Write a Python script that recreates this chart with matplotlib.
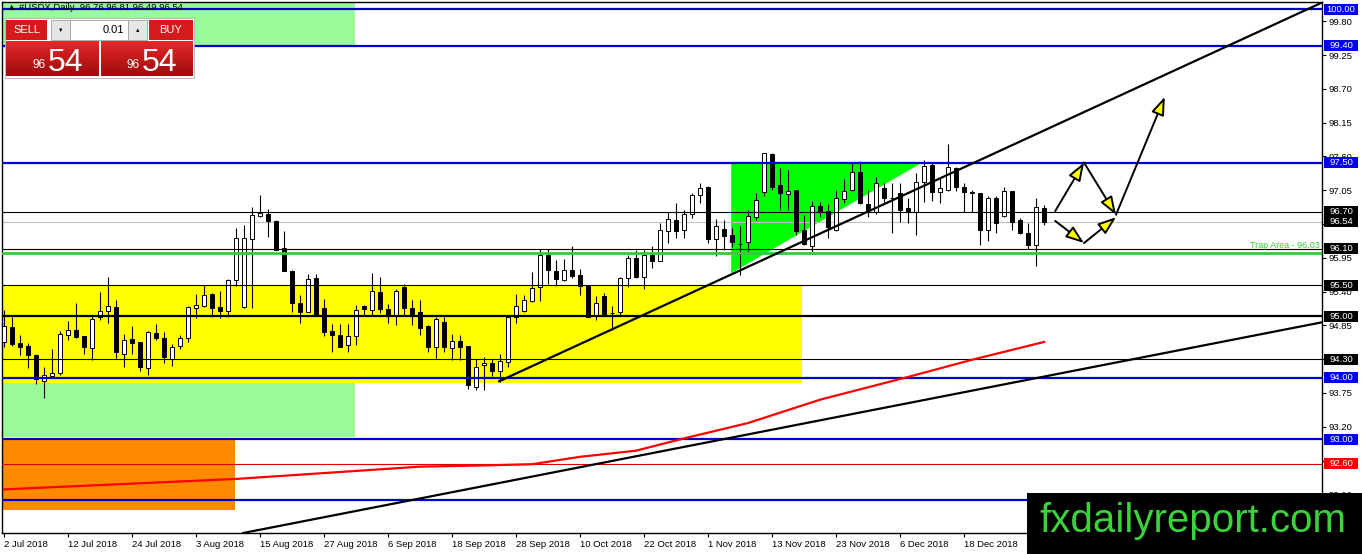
import matplotlib
matplotlib.use("Agg")
import numpy as np
import matplotlib.pyplot as plt
from matplotlib.patches import Rectangle, Polygon
from matplotlib.transforms import blended_transform_factory
from matplotlib.colors import LinearSegmentedColormap

plt.rcParams['font.family'] = ['Liberation Sans', 'DejaVu Sans']

# daily USDX candles, bar 0 = 2 Jul 2018 (one bar per trading day)
opens = [94.58, 94.83, 94.57, 94.51, 94.37, 93.94, 94.03, 94.07, 94.69, 94.78,
         94.67, 94.48, 94.98, 95.08, 95.15, 94.39, 94.62, 94.58, 94.16, 94.73,
         94.64, 94.31, 94.51, 94.64, 95.14, 95.16, 95.36, 95.15, 95.09, 95.59,
         95.15, 96.25, 96.63, 96.67, 96.55, 96.11, 95.74, 95.22, 95.07, 95.62,
         95.13, 94.76, 94.69, 94.53, 94.68, 95.16, 95.10, 95.39, 95.12, 95.01,
         95.48, 95.13, 95.07, 94.84, 94.49, 94.90, 94.48, 94.60, 94.52, 93.84,
         94.20, 94.24, 94.10, 94.26, 94.99, 95.09, 95.24, 95.47, 95.99, 95.74,
         95.59, 95.75, 95.67, 95.49, 95.00, 95.33, 95.05, 95.06, 95.62, 95.94,
         95.63, 96.00, 95.90, 96.39, 96.57, 96.41, 96.66, 96.97, 97.11, 96.26,
         96.42, 96.32, 96.18, 96.20, 96.62, 97.02, 97.64, 97.14, 96.99, 97.05,
         96.40, 96.15, 96.79, 96.71, 96.41, 96.90, 97.05, 97.35, 96.82, 96.70,
         97.09, 96.92, 97.00, 96.76, 96.69, 97.18, 97.46, 97.02, 97.05, 97.41,
         97.10, 97.02, 97.00, 96.41, 96.92, 96.63, 97.03, 96.57, 96.36, 96.16,
         96.76]
highs = [95.10, 94.98, 94.69, 94.56, 94.38, 94.18, 94.46, 94.76, 94.92, 95.22,
         94.67, 95.02, 95.39, 95.64, 95.26, 94.71, 94.84, 94.58, 94.76, 94.88,
         94.74, 94.54, 94.69, 95.17, 95.36, 95.51, 95.37, 95.41, 95.60, 96.43,
         96.49, 96.78, 96.97, 96.75, 96.56, 96.39, 95.75, 95.35, 95.68, 95.68,
         95.28, 94.88, 94.88, 94.88, 95.18, 95.18, 95.71, 95.63, 95.19, 95.45,
         95.52, 95.26, 95.26, 94.85, 94.99, 94.98, 94.71, 94.70, 94.52, 94.31,
         94.34, 94.30, 94.38, 94.98, 95.36, 95.34, 95.72, 96.09, 96.10, 95.92,
         95.93, 96.14, 95.76, 95.49, 95.32, 95.37, 95.17, 95.63, 96.00, 96.07,
         96.07, 96.14, 96.52, 96.70, 96.84, 96.73, 97.01, 97.17, 97.12, 96.58,
         96.57, 96.43, 96.46, 96.72, 97.01, 97.66, 97.65, 97.41, 97.38, 97.06,
         96.65, 96.88, 96.86, 96.82, 97.05, 97.23, 97.49, 97.52, 97.05, 97.27,
         97.16, 97.16, 97.16, 96.92, 97.33, 97.54, 97.50, 97.27, 97.80, 97.43,
         97.16, 97.05, 97.00, 96.95, 96.95, 97.11, 97.03, 96.59, 96.51, 96.93,
         96.81]
lows = [94.50, 94.52, 94.37, 94.15, 93.89, 93.66, 93.99, 94.04, 94.61, 94.65,
        94.38, 94.29, 94.94, 94.89, 94.32, 94.18, 94.38, 94.11, 94.05, 94.61,
        94.23, 94.19, 94.46, 94.58, 94.97, 95.15, 94.99, 94.97, 94.99, 95.49,
        95.13, 95.14, 96.62, 96.29, 96.07, 95.73, 95.07, 94.89, 95.06, 95.00,
        94.67, 94.41, 94.49, 94.42, 94.53, 95.02, 95.00, 95.05, 94.89, 94.85,
        95.00, 94.85, 94.69, 94.41, 94.32, 94.41, 94.29, 94.29, 93.81, 93.79,
        93.80, 94.02, 93.93, 94.18, 94.89, 95.06, 95.23, 95.24, 95.53, 95.49,
        95.58, 95.62, 95.35, 94.98, 94.93, 95.01, 94.77, 95.01, 95.47, 95.62,
        95.45, 95.79, 95.89, 96.19, 96.27, 96.27, 96.59, 96.85, 96.19, 95.98,
        96.08, 96.13, 95.67, 96.05, 96.57, 96.95, 97.05, 96.72, 96.73, 96.32,
        96.16, 96.05, 96.61, 96.28, 96.39, 96.84, 97.04, 96.83, 96.61, 96.66,
        96.86, 96.35, 96.54, 96.51, 96.32, 96.86, 96.88, 96.84, 97.03, 97.03,
        96.69, 96.69, 96.16, 96.23, 96.36, 96.61, 96.40, 96.34, 96.10, 95.81,
        96.49]
closes = [94.84, 94.55, 94.50, 94.36, 93.98, 94.05, 94.07, 94.71, 94.77, 94.66,
          94.49, 94.95, 95.09, 95.16, 94.42, 94.61, 94.56, 94.18, 94.74, 94.65,
          94.33, 94.49, 94.64, 95.15, 95.18, 95.34, 95.14, 95.09, 95.59, 96.28,
          96.27, 96.65, 96.68, 96.55, 96.08, 95.74, 95.22, 95.07, 95.60, 95.02,
          94.74, 94.69, 94.50, 94.68, 95.10, 95.11, 95.41, 95.11, 95.01, 95.41,
          95.14, 95.04, 94.81, 94.50, 94.95, 94.49, 94.59, 94.50, 93.88, 94.17,
          94.24, 94.11, 94.27, 94.98, 95.17, 95.26, 95.46, 95.99, 95.75, 95.60,
          95.75, 95.66, 95.49, 94.99, 95.22, 95.03, 95.05, 95.62, 95.95, 95.63,
          96.00, 95.90, 96.40, 96.58, 96.38, 96.66, 96.97, 97.08, 96.26, 96.46,
          96.31, 96.20, 96.17, 96.63, 96.89, 97.65, 97.11, 97.00, 97.04, 96.39,
          96.18, 96.79, 96.69, 96.45, 96.92, 97.04, 97.35, 96.84, 96.73, 97.17,
          96.93, 96.92, 96.73, 96.69, 97.18, 97.44, 97.02, 97.08, 97.42, 97.11,
          97.02, 97.01, 96.41, 96.93, 96.52, 97.03, 96.54, 96.35, 96.16, 96.78,
          96.54]

date_labels = ["2 Jul 2018", "12 Jul 2018", "24 Jul 2018", "3 Aug 2018", "15 Aug 2018",
               "27 Aug 2018", "6 Sep 2018", "18 Sep 2018", "28 Sep 2018", "10 Oct 2018",
               "22 Oct 2018", "1 Nov 2018", "13 Nov 2018", "23 Nov 2018", "6 Dec 2018",
               "18 Dec 2018"]
price_ticks = [92.10, 92.65, 93.20, 93.75, 94.30, 94.85, 95.40, 95.95, 96.50,
               97.05, 97.60, 98.15, 98.70, 99.25, 99.80]
hidden_ticks = [92.65, 94.30, 96.50]   # covered by the level tags

# moving average (red), read at a few bars
ma_bars = [0, 29, 52, 60, 66, 72, 79, 85, 93, 102, 113, 121, 130]
ma_vals = [92.18, 92.35, 92.55, 92.57, 92.59, 92.71, 92.81, 93.01, 93.26, 93.64,
           94.01, 94.29, 94.58]

# horizontal levels
blue_levels = [100.00, 99.40, 97.50, 94.00, 93.00, 92.00]
black_levels = [96.70, 96.10, 95.50, 94.30]
thick_level = 95.00
red_level = 92.60
bid_price = 96.54
trap_level = 96.03

level_tags = [(100.00, '#0000f0'), (99.40, '#0000f0'), (97.50, '#0000f0'),
              (96.70, 'black'), (96.54, 'black'), (96.10, 'black'),
              (95.50, 'black'), (95.00, 'black'), (94.30, 'black'),
              (94.00, '#0000f0'), (93.00, '#0000f0'), (92.60, '#ff0000')]

# trend lines (bar, price)
trend_up = [(61.9, 93.94), (166.0, 100.18)]
trend_low = [(29.9, 91.47), (164.75, 94.90)]

# zones: (bar0, bar1, price0, price1, colour)
zones = [(-0.25, 43.9, 99.41, 100.2, '#98fb98'),
         (-0.25, 43.9, 93.03, 93.91, '#98fb98'),
         (-0.25, 99.75, 93.91, 95.49, '#ffff00'),
         (-0.25, 28.9, 91.84, 92.98, '#ff8a00')]
triangle = [(90.9, 97.51), (114.9, 97.51), (90.9, 95.70)]

# projected path arrows
path_up = [(131.4, 96.71), (135.0, 97.50), (139.0, 96.65), (145.1, 98.57)]
path_down = [(131.4, 96.55), (135.0, 96.19), (139.0, 96.61)]

W, H = 1362, 554
fig = plt.figure(figsize=(W / 100, H / 100), dpi=100)
ax = fig.add_axes([2 / W, 21 / H, 1320 / W, 531 / H])
ax.set_xlim(-0.25, 164.75)
ax.set_ylim(91.47, 100.114)

for b0, b1, p0, p1, col in zones:
    ax.add_patch(Rectangle((b0, p0), b1 - b0, p1 - p0, fc=col, ec='none', zorder=1))
ax.add_patch(Polygon(triangle, closed=True, fc='#00ff00', ec='none', zorder=1))

# candles
x = np.arange(len(opens))
o = np.array(opens); c = np.array(closes)
ax.vlines(x, lows, highs, color='black', lw=0.8, zorder=3)
bull = c >= o
ax.bar(x[bull], c[bull] - o[bull], bottom=o[bull], width=0.62,
       color='white', edgecolor='black', lw=0.7, zorder=3.1)
ax.bar(x[~bull], o[~bull] - c[~bull], bottom=c[~bull], width=0.62,
       color='black', edgecolor='black', lw=0.7, zorder=3.1)

# levels
for lv in blue_levels:
    ax.axhline(lv, color='#0000c8', lw=1.6, zorder=4)
for lv in black_levels:
    ax.axhline(lv, color='black', lw=0.8, zorder=4)
ax.axhline(thick_level, color='black', lw=1.6, zorder=4)
ax.axhline(red_level, color='#e00000', lw=0.8, zorder=4)
ax.axhline(bid_price, color='#c0c0c0', lw=0.8, zorder=2)
ax.axhline(trap_level, color='#32cd32', lw=2.0, zorder=4)
ax.text(164.5, trap_level + 0.05, 'Trap Area - 96.03', color='#32cd32',
        fontsize=6.5, ha='right', va='bottom', zorder=5)

ax.plot(ma_bars, ma_vals, color='#ff0000', lw=1.6, zorder=4)
for line in (trend_up, trend_low):
    ax.plot([line[0][0], line[1][0]], [line[0][1], line[1][1]],
            color='black', lw=1.6, zorder=4.5)

for path in (path_up, path_down):
    for a, b in zip(path[:-1], path[1:]):
        ax.annotate('', xy=b, xytext=a, zorder=5,
                    arrowprops=dict(arrowstyle='-|>,head_length=1.1,head_width=0.4',
                                    fc='#ffff00', ec='black', lw=1.4,
                                    shrinkA=0, shrinkB=0, mutation_scale=10))

# axes styling
for s in ax.spines.values():
    s.set_color('black'); s.set_linewidth(1)
ax.yaxis.tick_right()
ax.set_yticks(price_ticks)
ax.set_yticklabels(['' if p in hidden_ticks else f'{p:.2f}' for p in price_ticks])
ax.tick_params(axis='y', direction='out', length=3, pad=2, labelsize=6.8)
ax.set_xticks(range(0, 8 * len(date_labels), 8))
ax.set_xticklabels(date_labels)
for lab in ax.get_xticklabels():
    lab.set_ha('left')
ax.tick_params(axis='x', direction='out', length=3, pad=2, labelsize=6.8)

# price tags on the right axis
tr = blended_transform_factory(ax.transAxes, ax.transData)
tag_w = 34 / 1320
tag_h = 11 / 61.43
for lv, col in level_tags:
    ax.add_patch(Rectangle((1.0015, lv - tag_h / 2), tag_w, tag_h, transform=tr,
                           fc=col, ec='none', clip_on=False, zorder=6))
    ax.text(1.0015 + tag_w / 2, lv, f'{lv:.2f}', transform=tr, color='white',
            fontsize=6.8, ha='center', va='center', clip_on=False, zorder=7)

# overlay in pixel coords: title, trade panel, watermark
ov = fig.add_axes([0, 0, 1, 1])
ov.set_xlim(0, W); ov.set_ylim(H, 0); ov.axis('off')
ov.patch.set_alpha(0)

ov.text(7, 8, '\u25b2 #USDX,Daily  96.76 96.81 96.49 96.54', fontsize=6.8,
        va='center', ha='left', color='black')

ov.add_patch(Rectangle((5, 18), 189, 60, fc='white', ec='#b0b0b0', lw=0.6))
ov.add_patch(Rectangle((6, 20), 41, 20, fc='#d41a1a', ec='none'))
ov.text(26.5, 30, 'SELL', color='white', fontsize=8, ha='center', va='center')
ov.add_patch(Rectangle((51, 20), 19, 20, fc='#e6e6e6', ec='#a0a0a0', lw=0.6))
ov.text(60.5, 30, '\u25bc', fontsize=4, ha='center', va='center', color='black')
ov.add_patch(Rectangle((70, 20), 58, 20, fc='white', ec='#a0a0a0', lw=0.6))
ov.text(124, 30, '0.01', fontsize=8, ha='right', va='center', color='black')
ov.add_patch(Rectangle((128, 20), 19, 20, fc='#e6e6e6', ec='#a0a0a0', lw=0.6))
ov.text(137.5, 30, '\u25b2', fontsize=4, ha='center', va='center', color='black')
ov.add_patch(Rectangle((149, 20), 44, 20, fc='#d41a1a', ec='none'))
ov.text(171, 30, 'BUY', color='white', fontsize=8, ha='center', va='center')

grad = np.linspace(0, 1, 40).reshape(-1, 1)
red_cmap = LinearSegmentedColormap.from_list('r', ['#e42a2a', '#a00a0a'])
for x0, x1 in ((6, 99), (101, 193)):
    ov.imshow(grad, cmap=red_cmap, extent=(x0, x1, 76, 41), aspect='auto', zorder=2)
    mid = (x0 + x1) / 2
    ov.text(mid - 7, 68, '96', color='white', fontsize=8.5, ha='right',
            va='baseline', zorder=3)
    ov.text(mid - 5, 71, '54', color='white', fontsize=23, ha='left',
            va='baseline', zorder=3)

ov.add_patch(Rectangle((1027, 493), 335, 61, fc='black', ec='none', zorder=5))
ov.text(1193, 521, 'fxdailyreport.com', color='#3cd23c', fontsize=29,
        ha='center', va='center', zorder=6)

fig.savefig('out.png', dpi=100)
